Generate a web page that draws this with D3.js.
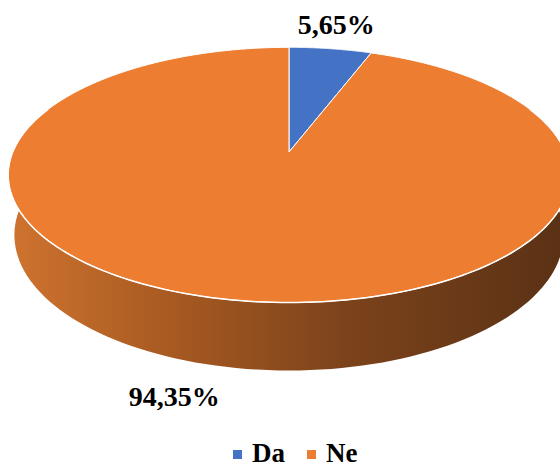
<!DOCTYPE html>
<html><head><meta charset="utf-8">
<script src="https://cdn.jsdelivr.net/npm/d3@7"></script>
<style>body{margin:0;background:#fff}svg{display:block}</style>
</head><body>
<div id="chart"></div>
<script>
const categories = ["Da", "Ne"];
const values = [5.65, 94.35];
const labels = ["5,65%", "94,35%"];
const colors = ["#4472C4", "#ED7D31"];

const W = 560, H = 467;
const svg = d3.select("#chart").append("svg").attr("width", W).attr("height", H);

// perspective projection of a 3D disc
const cx = 289, cy = 152;
const phi = Math.asin(0.447), s = Math.sin(phi), c = Math.cos(phi);
const D0 = 4.977, K = 1375, T = 0.245;
function proj(a, r, h) {
  const x = r * Math.sin(a), z = r * Math.cos(a);
  const Yc = z * s + h * c;
  const D = D0 + z * c - h * s;
  return [cx + K * x / D, cy - K * Yc / D];
}
function arcPts(a0, a1, r, h, n) {
  const pts = [];
  for (let i = 0; i <= n; i++) pts.push(proj(a0 + (a1 - a0) * i / n, r, h));
  return pts;
}

const pie = d3.pie().sort(null).startAngle(0).endAngle(2 * Math.PI)(values);

const defs = svg.append("defs");
const g = defs.append("linearGradient").attr("id", "side").attr("gradientUnits", "userSpaceOnUse")
  .attr("x1", 10).attr("x2", 566).attr("y1", 0).attr("y2", 0);
[[0, "#CF732F"], [0.3, "#A65921"], [0.6, "#7C431B"], [1, "#5A3115"]].forEach(d =>
  g.append("stop").attr("offset", d[0]).attr("stop-color", d[1]));

const line = d3.line();
const a0 = Math.PI * 0.38, a1 = Math.PI * 1.62;
const sidePts = arcPts(a0, a1, 1, 0, 120).concat(arcPts(a1, a0, 1, -T, 120));
svg.append("path").attr("d", line(sidePts) + "Z").attr("fill", "url(#side)");

pie.forEach((p, i) => {
  const pts = [proj(0, 0, 0)].concat(arcPts(p.startAngle, p.endAngle, 1, 0, 200));
  svg.append("path").attr("d", line(pts) + "Z")
    .attr("fill", colors[i]).attr("stroke", "#fff").attr("stroke-width", 1)
    .attr("stroke-linejoin", "round");
});
svg.append("path").attr("d", line(arcPts(a0, a1, 1, 0, 160)))
  .attr("fill", "none").attr("stroke", "#fff").attr("stroke-width", 1.5);

function styleText(sel, size) {
  return sel.style("font-family", "'Liberation Serif'").style("font-weight", "bold")
    .style("font-size", size + "px").attr("fill", "#000");
}
const pb = pie[0], mb = (pb.startAngle + pb.endAngle) / 2;
const lb = proj(mb, 1.17, 0);
styleText(svg.append("text").attr("x", lb[0]).attr("y", lb[1]).attr("text-anchor", "middle"), 28)
  .text(labels[0]);
const po = pie[1], mo = (po.startAngle + po.endAngle) / 2;
const lo = proj(mo, 1, -T);
styleText(svg.append("text").attr("x", lo[0] - 57).attr("y", lo[1] + 39).attr("text-anchor", "middle"), 28)
  .text(labels[1]);

const leg = svg.append("g").attr("transform", "translate(233,462)");
const lx = [0, 74];
categories.forEach((cat, i) => {
  leg.append("rect").attr("x", lx[i]).attr("y", -12).attr("width", 9).attr("height", 9).attr("fill", colors[i]);
  styleText(leg.append("text").attr("x", lx[i] + 19).attr("y", 0), 27).text(cat);
});
</script>
</body></html>
